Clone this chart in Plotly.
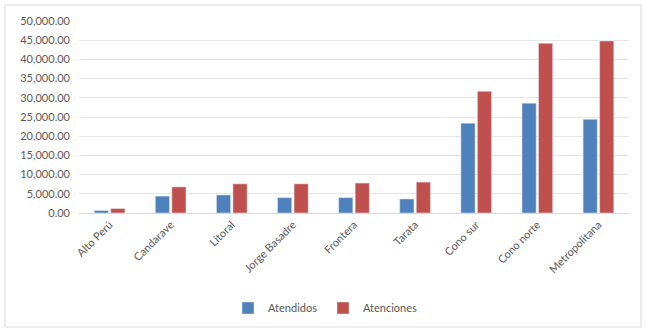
import plotly.graph_objects as go

categories = ["Alto Perú", "Candarave", "Litoral", "Jorge Basadre", "Frontera",
              "Tarata", "Cono sur", "Cono norte", "Metropolitana"]
atendidos = [650, 4400, 4700, 4000, 4000, 3650, 23400, 28600, 24400]
atenciones = [1150, 6800, 7600, 7600, 7800, 8050, 31700, 44200, 44800]
y_ticks = [0, 5000, 10000, 15000, 20000, 25000, 30000, 35000, 40000, 45000, 50000]

W, H = 646, 331
L, R, T, B = 79, 17, 21, 118
pw, ph = W - L - R, H - T - B

fnt = dict(family="Lato, Carlito, Calibri, sans-serif", size=11, color="#595959")

fig = go.Figure()
fig.add_trace(go.Bar(x=categories, y=atendidos, name="Atendidos",
                     marker=dict(color="#4F81BD")))
fig.add_trace(go.Bar(x=categories, y=atenciones, name="Atenciones",
                     marker=dict(color="#C0504D")))

def px_x(p):
    return (p - L) / pw

def px_y(p):
    return (H - B - p) / ph

fig.add_shape(type="rect", xref="paper", yref="paper",
              x0=px_x(5), x1=px_x(641), y0=px_y(327), y1=px_y(5),
              line=dict(color="#D9D9D9", width=1), fillcolor="rgba(0,0,0,0)")

fig.update_layout(
    width=W, height=H,
    margin=dict(l=L, r=R, t=T, b=B),
    paper_bgcolor="white", plot_bgcolor="white",
    font=fnt,
    barmode="group", bargap=0.46, bargroupgap=0.14,
    showlegend=True,
    legend=dict(orientation="h", xref="container", yref="container",
                x=0.5, xanchor="center", y=1 - 308 / H, yanchor="middle",
                font=fnt, itemwidth=30, traceorder="normal",
                entrywidth=50, entrywidthmode="pixels"),
    xaxis=dict(tickangle=-45, showgrid=False, showline=True,
               linecolor="#D9D9D9", ticks="", tickfont=fnt),
    yaxis=dict(range=[0, 50000], tickvals=y_ticks, tickformat=",.2f",
               showgrid=True, gridcolor="#E6E6E6", zeroline=False,
               showline=False, ticks="", tickfont=fnt, ticklabelstandoff=8),
)

fig.write_html("out.html")
